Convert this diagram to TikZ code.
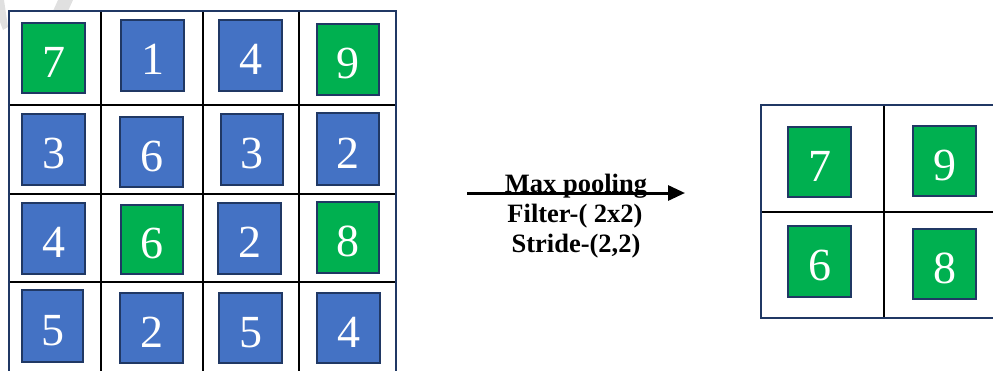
\documentclass[tikz,border=0pt]{standalone}
\usepackage{fontspec}
\setmainfont{Liberation Serif}
\usetikzlibrary{arrows.meta}
\definecolor{cblue}{HTML}{4472C4}
\definecolor{cgreen}{HTML}{00B050}
\definecolor{cnavy}{HTML}{203864}
\tikzset{
  sq/.style={draw=cnavy, line width=2pt, text=white, inner sep=0pt,
    font=\fontsize{46}{46}\selectfont, text height=38pt, text depth=0pt,
    minimum width=63pt, minimum height=71pt},
  bsq/.style={sq, fill=cblue},
  gsq/.style={sq, fill=cgreen},
  outer/.style={draw=cnavy, line width=2pt},
  inner/.style={draw=black, line width=2pt},
  lbl/.style={font=\fontsize{26.5}{27}\selectfont\bfseries, anchor=base, inner sep=0pt},
  wm/.style={fill=black!12}
}
\begin{document}
\begin{tikzpicture}[x=1pt,y=-1pt]
\useasboundingbox (0,0) rectangle (993,370);
\clip (0,0) rectangle (993,370);
% watermark fragments
\fill[wm] (0,0) -- (4,0) -- (8,27) -- (3,30) -- (0,22) -- cycle;
\fill[wm] (58,0) -- (73,0) -- (68,11) -- (53,11) -- cycle;
% left grid
\draw[inner] (101,11) -- (101,372) (203,11) -- (203,372) (299,11) -- (299,372);
\draw[inner] (9,105) -- (396,105) (9,194) -- (396,194) (9,282) -- (396,282);
\draw[outer] (9,11) rectangle (396,372);
% right grid
\draw[inner] (884,105) -- (884,318) (761,212) -- (1007,212);
\draw[outer] (761,105) rectangle (1007,318);
% left squares
\node[gsq, minimum height=70pt] (a11) at (53.5,58) {7};
\node[bsq] (a12) at (152.5,55.5) {1};
\node[bsq] (a13) at (250.5,55.5) {4};
\node[gsq, minimum width=62pt] (a14) at (348,59.5) {9};
\node[bsq] (a21) at (53.5,149.5) {3};
\node[bsq, minimum height=70pt] (a22) at (151.5,152) {6};
\node[bsq, minimum width=62pt] (a23) at (252,149.5) {3};
\node[bsq, minimum width=62pt, minimum height=72pt] (a24) at (348,149) {2};
\node[bsq] (a31) at (53.5,238.5) {4};
\node[gsq, minimum width=62pt, minimum height=69pt] (a32) at (152,239.5) {6};
\node[bsq] (a33) at (249.5,238.5) {2};
\node[gsq, minimum width=62pt] (a34) at (348,237.5) {8};
\node[bsq, minimum width=61pt, minimum height=72pt] (a41) at (52.5,326) {5};
\node[bsq, minimum height=70pt] (a42) at (151.5,328) {2};
\node[bsq, minimum height=70pt] (a43) at (250.5,328) {5};
\node[bsq, minimum height=70pt] (a44) at (348.5,328) {4};
% right squares
\node[gsq, minimum height=70pt] (b11) at (819.5,162) {7};
\node[gsq, minimum height=70pt] (b12) at (944.5,161) {9};
\node[gsq] (b21) at (819.5,261.5) {6};
\node[gsq, minimum height=70pt] (b22) at (944.5,264) {8};
% labels
\node[lbl] (t1) at (576,192) {Max pooling};
\node[lbl] (t2) at (575,222.5) {Filter-( 2x2)};
\node[lbl] (t3) at (576,252) {Stride-(2,2)};
% arrow
\coordinate (p1) at (467,193);
\coordinate (p2) at (685,193);
\draw[line width=3pt, -{Triangle[length=17pt,width=15pt]}] (p1) -- (p2);
\end{tikzpicture}
\end{document}
